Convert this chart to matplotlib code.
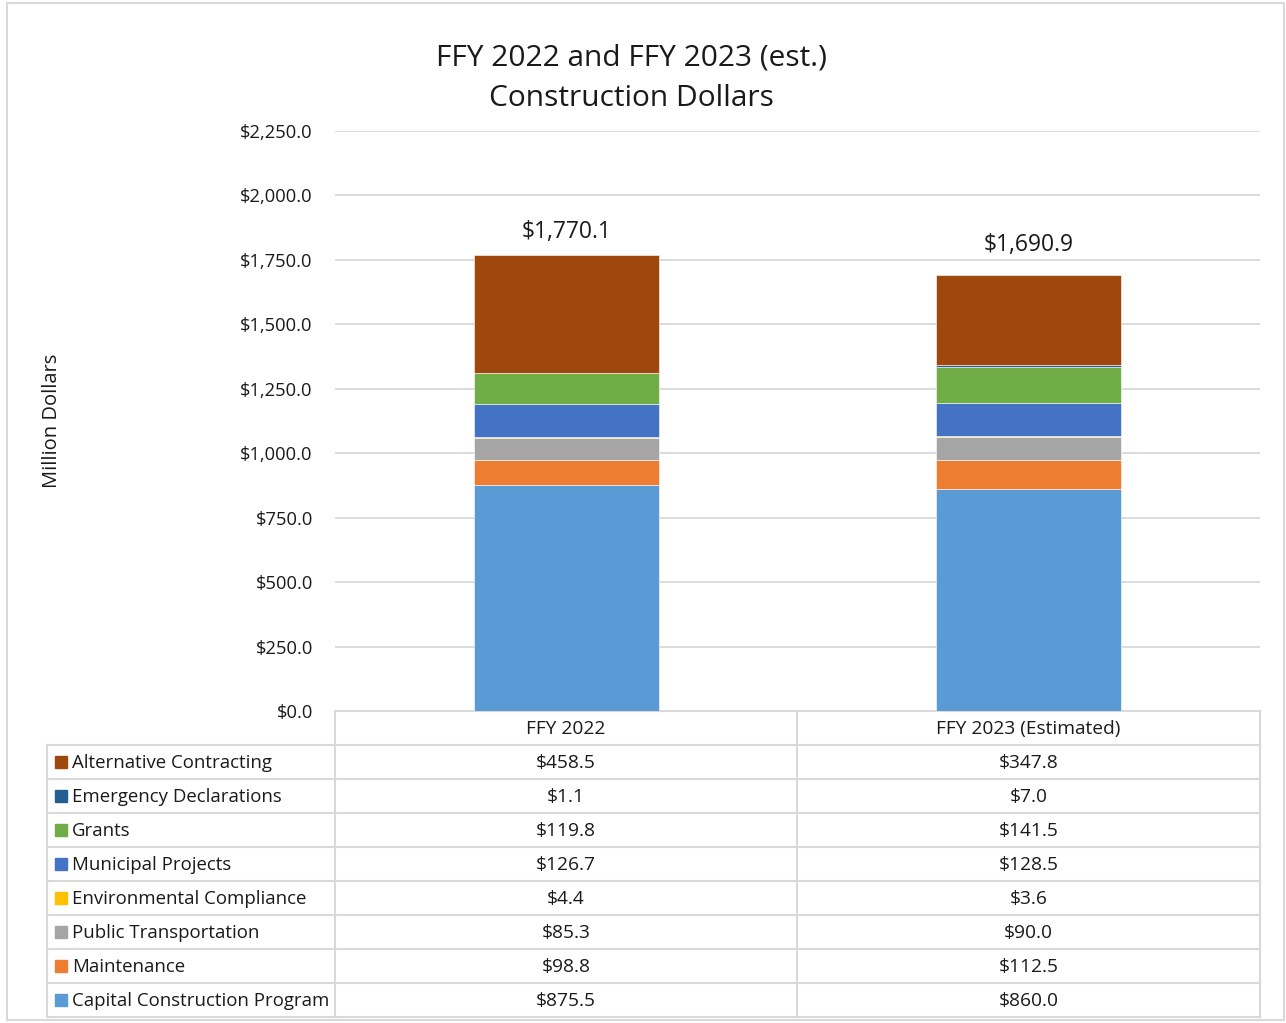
import matplotlib.pyplot as plt
from matplotlib.patches import Rectangle
import numpy as np

plt.rcParams['font.family'] = ['Open Sans', 'DejaVu Sans']

years = ['FFY 2022', 'FFY 2023 (Estimated)']
series = ['Alternative Contracting', 'Emergency Declarations', 'Grants', 'Municipal Projects',
          'Environmental Compliance', 'Public Transportation', 'Maintenance',
          'Capital Construction Program']
alt_contracting = [458.5, 347.8]
emergency = [1.1, 7.0]
grants = [119.8, 141.5]
municipal = [126.7, 128.5]
environmental = [4.4, 3.6]
public_transport = [85.3, 90.0]
maintenance = [98.8, 112.5]
capital = [875.5, 860.0]
totals = [1770.1, 1690.9]

colors = ['#9E480E', '#255E91', '#70AD47', '#4472C4', '#FFC000', '#A5A5A5', '#ED7D31', '#5B9BD5']
values = [alt_contracting, emergency, grants, municipal, environmental,
          public_transport, maintenance, capital]

W, H = 1286, 1023
fig = plt.figure(figsize=(W / 100, H / 100), dpi=100)
txt_c = '#1a1a1a'

# background overlay in pixel coordinates (frame + table)
bg = fig.add_axes([0, 0, 1, 1])
bg.set_xlim(0, W)
bg.set_ylim(H, 0)
bg.axis('off')
line_c = '#D9D9D9'
bg.add_patch(Rectangle((7, 3), 1277, 1017, fill=False, edgecolor=line_c, lw=1.5))

ax = fig.add_axes([335 / W, 1 - 711 / H, (1260 - 335) / W, (711 - 131) / H])
x = np.array([0.5, 1.5])
bottom = np.zeros(2)
for name, vals, c in reversed(list(zip(series, values, colors))):
    ax.bar(x, vals, 0.4, bottom=bottom, color=c, edgecolor='white', linewidth=0.4, zorder=3)
    bottom += np.array(vals)

for xi, t, off in zip(x, totals, [88, 115]):
    ax.text(xi, t + off, f'${t:,.1f}', ha='center', va='center', fontsize=16.5, color=txt_c)

ax.set_xlim(0, 2)
ax.set_ylim(0, 2250)
ax.set_yticks(np.arange(0, 2251, 250))
ax.set_yticklabels([f'${v:,.1f}' for v in np.arange(0, 2251, 250)], fontsize=13.2, color=txt_c)
ax.tick_params(axis='y', length=0, pad=16)
ax.set_xticks([])
ax.grid(axis='y', color=line_c, lw=1.3, zorder=0)
for s in ax.spines.values():
    s.set_visible(False)
ax.patch.set_alpha(0)

fig.text(631 / W, 1 - 78 / H, 'FFY 2022 and FFY 2023 (est.)\nConstruction Dollars',
         ha='center', va='center', fontsize=21.5, color=txt_c, linespacing=1.5)
fig.text(52 / W, 1 - 421 / H, 'Million Dollars', rotation=90, ha='center', va='center',
         fontsize=14.5, color=txt_c)

# data table
rows_top = 711
rh = 34.0
col_x = [47, 335, 797, 1260]
ylines = [rows_top + rh * i for i in range(10)]
# header row
bg.plot([335, 1260], [ylines[0], ylines[0]], color=line_c, lw=1.5)
for yl in ylines[1:]:
    bg.plot([47, 1260], [yl, yl], color=line_c, lw=1.5)
bg.plot([47, 47], [ylines[1], ylines[-1]], color=line_c, lw=1.5)
for cx in col_x[1:]:
    bg.plot([cx, cx], [ylines[0], ylines[-1]], color=line_c, lw=1.5)

fs = 13.8
for j, yr in enumerate(years):
    cx = (col_x[j + 1] + col_x[j + 2]) / 2
    bg.text(cx, ylines[0] + rh / 2 + 1, yr, ha='center', va='center', fontsize=fs, color=txt_c)

for i, (name, vals, c) in enumerate(zip(series, values, colors)):
    yc = ylines[i + 1] + rh / 2
    bg.add_patch(Rectangle((55, yc - 6), 12, 12, color=c))
    bg.text(72, yc + 1, name, ha='left', va='center', fontsize=13.4, color=txt_c)
    for j, v in enumerate(vals):
        cx = (col_x[j + 1] + col_x[j + 2]) / 2
        bg.text(cx, yc + 1, f'${v:,.1f}', ha='center', va='center', fontsize=fs, color=txt_c)

fig.savefig('out.png', dpi=100, facecolor='white')
